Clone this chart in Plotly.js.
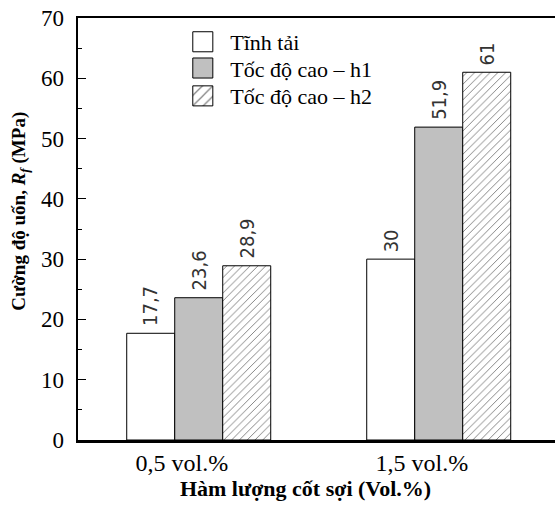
<!DOCTYPE html>
<html><head><meta charset="utf-8">
<script src="https://cdn.plot.ly/plotly-3.0.1.min.js"></script>
<style>html,body{margin:0;padding:0;background:#fff}</style>
</head><body><div id="chart" style="width:555px;height:505px"></div>
<script>
const categories = ['0,5 vol.%', '1,5 vol.%'];
const seriesNames = ['Tĩnh tải', 'Tốc độ cao – h1', 'Tốc độ cao – h2'];
const staticLoad = [17.7, 30];
const highSpeedH1 = [23.6, 51.9];
const highSpeedH2 = [28.9, 61];
const yTicks = [0, 10, 20, 30, 40, 50, 60, 70];
const xTitle = 'Hàm lượng cốt sợi (Vol.%)';
const yTitle = 'Cường độ uốn, <i>R<sub>f</sub></i> (MPa)';

const serif = 'Liberation Serif, Times New Roman, serif';
const labelFont = 'DejaVu Sans Condensed, Liberation Sans Narrow, DejaVu Sans, sans-serif';
const xPos = categories.map((c, i) => i);
const allSeries = [staticLoad, highSpeedH1, highSpeedH2];
const barGap = 0.4;
const barW = (1 - barGap) / allSeries.length;

const styles = [
  {color: '#ffffff'},
  {color: '#c0c0c0'},
  {color: '#ffffff', pattern: {shape: '/', size: 5.5, solidity: 0.17, fgcolor: '#000', bgcolor: '#ffffff', fillmode: 'overlay'}}
];
const legendIds = ['legend', 'legend2', 'legend3'];
const legendY = [0.9432, 0.8810, 0.8150];

const traces = allSeries.map((vals, j) => ({
  type: 'bar',
  name: seriesNames[j],
  legend: legendIds[j],
  x: xPos,
  y: vals,
  marker: Object.assign({line: {color: '#000', width: 1}}, styles[j]),
  hoverinfo: 'skip'
}));

const fmt = v => String(v).replace('.', ',');
const annotations = [];
allSeries.forEach((vals, j) => {
  vals.forEach((v, i) => {
    annotations.push({
      x: xPos[i] + (j - (allSeries.length - 1) / 2) * barW,
      y: v, xref: 'x', yref: 'y',
      text: fmt(v), textangle: -90, showarrow: false,
      yanchor: 'bottom', xanchor: 'center', yshift: 5,
      font: {family: labelFont, size: 20, color: '#333'}
    });
  });
});
annotations.push({
  x: 0, xref: 'paper', xshift: -58, xanchor: 'center',
  y: 0.5408, yref: 'paper', yanchor: 'middle',
  text: '<b>' + yTitle + '</b>', textangle: -90, showarrow: false,
  font: {family: serif, size: 19, color: '#000'}
});

const legendBase = {x: 0.204, xanchor: 'left', yanchor: 'middle', bgcolor: 'rgba(0,0,0,0)',
  itemwidth: 45, font: {family: serif, size: 22, color: '#000'}};

const layout = {
  width: 555, height: 505,
  margin: {l: 78, r: 0, t: 18, b: 65},
  paper_bgcolor: '#fff', plot_bgcolor: '#fff',
  barmode: 'group', bargap: barGap, bargroupgap: 0,
  showlegend: true,
  legend: Object.assign({}, legendBase, {y: legendY[0]}),
  legend2: Object.assign({}, legendBase, {y: legendY[1]}),
  legend3: Object.assign({}, legendBase, {y: legendY[2]}),
  xaxis: {
    range: [-0.503, 1.4845], tickmode: 'array',
    tickvals: xPos.map(p => p - 0.07), ticktext: categories,
    ticks: '', showline: true, linecolor: '#000', linewidth: 2.5, mirror: true,
    showgrid: false, zeroline: false,
    tickfont: {family: serif, size: 24, color: '#000'},
    title: {text: '<b>' + xTitle + '</b>&nbsp;&nbsp;&nbsp;&nbsp;', font: {family: serif, size: 22, color: '#000'}, standoff: 6}
  },
  yaxis: {
    range: [0, 70], tickmode: 'array', tickvals: yTicks,
    ticks: 'inside', ticklen: 8, tickwidth: 1, tickcolor: '#000',
    ticklabelstandoff: 7,
    minor: {dtick: 5, tick0: 0, ticks: 'inside', ticklen: 4, tickwidth: 1, tickcolor: '#000', showgrid: false},
    showline: true, linecolor: '#000', linewidth: 2.5, mirror: false,
    showgrid: false, zeroline: false,
    tickfont: {family: serif, size: 23, color: '#000'}
  },
  annotations: annotations
};

Plotly.newPlot('chart', traces, layout, {displayModeBar: false, staticPlot: true}).then(gd => {
  gd.querySelectorAll('.legendpoints path').forEach(p => {
    const t = p.getAttribute('transform') || '';
    p.setAttribute('transform', t + ' scale(1.67)');
    p.setAttribute('vector-effect', 'non-scaling-stroke');
  });
});
</script></body></html>
